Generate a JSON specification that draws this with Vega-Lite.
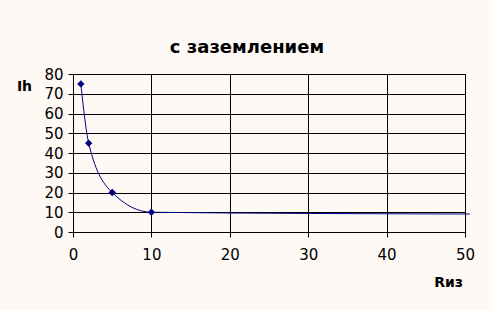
{
  "$schema": "https://vega.github.io/schema/vega-lite/v6.json",
  "autosize": {"type": "none"},
  "width": 392,
  "height": 158,
  "padding": {"left": 73, "top": 74, "right": 27, "bottom": 78},
  "background": "#FEF9F4",
  "datasets": {
    "curve": [
      {"R": 1, "I": 75},
      {"R": 2, "I": 45},
      {"R": 5, "I": 20},
      {"R": 10, "I": 10},
      {"R": 50.6, "I": 9.1}
    ],
    "pts": [
      {"R": 1, "I": 75},
      {"R": 2, "I": 45},
      {"R": 5, "I": 20},
      {"R": 10, "I": 10}
    ]
  },
  "title": {
    "text": "с заземлением",
    "font": "DejaVu Sans",
    "fontSize": 18,
    "fontWeight": "bold",
    "color": "black",
    "anchor": "middle",
    "frame": "group",
    "dx": -22,
    "offset": 10
  },
  "config": {
    "view": {"stroke": "black", "strokeWidth": 1, "fill": null},
    "axis": {
      "labelFont": "DejaVu Sans",
      "labelFontSize": 15,
      "labelColor": "black",
      "labelOverlap": false,
      "titleFont": "DejaVu Sans",
      "titleFontSize": 14,
      "titleFontWeight": "bold",
      "titleColor": "black",
      "domainColor": "black",
      "tickColor": "black",
      "gridColor": "black",
      "gridOpacity": 1,
      "domainWidth": 1,
      "tickWidth": 1,
      "gridWidth": 1,
      "tickSize": 5
    }
  },
  "encoding": {
    "x": {
      "field": "R", "type": "quantitative",
      "scale": {"domain": [0, 50], "nice": false, "zero": true},
      "axis": {
        "values": [0, 10, 20, 30, 40, 50],
        "title": "Rиз",
        "titleAngle": 0,
        "titleX": 375,
        "titleY": 50,
        "titleAlign": "center",
        "titleBaseline": "middle",
        "labelPadding": 10,
        "labelFlush": false,
        "labelOverlap": false
      }
    },
    "y": {
      "field": "I", "type": "quantitative",
      "scale": {"domain": [0, 80], "nice": false},
      "axis": {
        "values": [0, 10, 20, 30, 40, 50, 60, 70, 80],
        "title": "Ih",
        "titleAngle": 0,
        "titleX": -49,
        "titleY": 12,
        "titleAlign": "center",
        "titleBaseline": "middle",
        "labelPadding": 5,
        "labelOverlap": false
      }
    }
  },
  "layer": [
    {
      "data": {"name": "curve"},
      "mark": {"type": "line", "interpolate": "monotone", "color": "#000080", "strokeWidth": 1, "clip": false}
    },
    {
      "data": {"name": "pts"},
      "mark": {"type": "point", "shape": "diamond", "filled": true, "color": "#000080", "size": 55, "opacity": 1}
    }
  ]
}
